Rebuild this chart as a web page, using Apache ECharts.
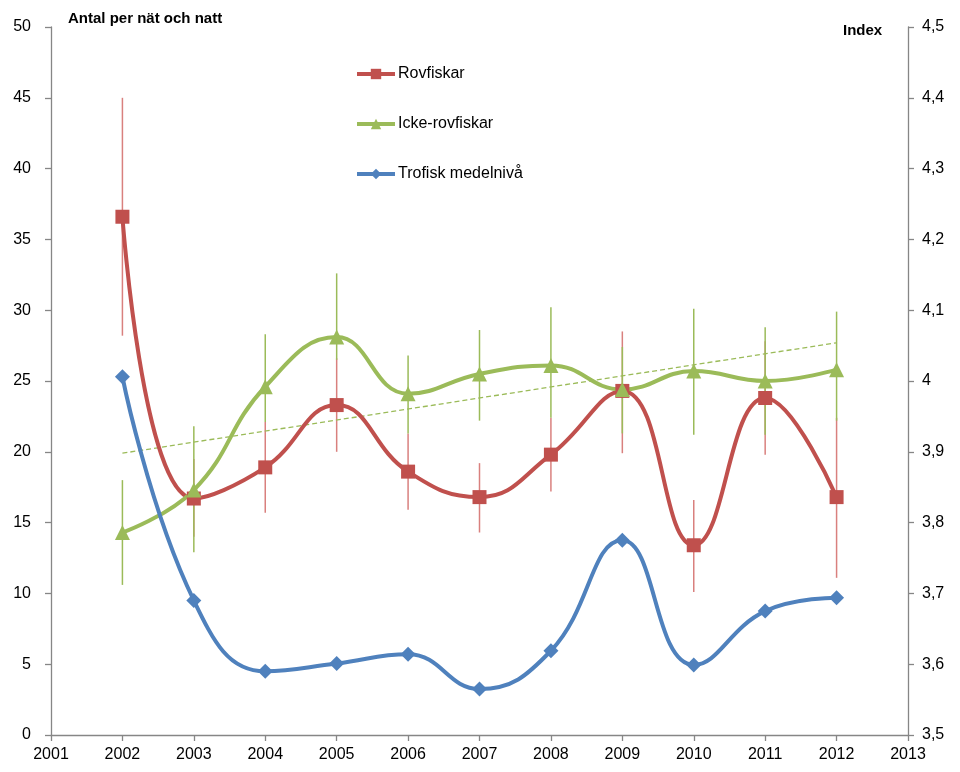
<!DOCTYPE html>
<html>
<head>
<meta charset="utf-8">
<script src="https://cdn.jsdelivr.net/npm/echarts@6/dist/echarts.min.js"></script>
<style>html,body{margin:0;padding:0;background:#fff}#c{width:960px;height:772px}</style>
</head>
<body>
<div id="c"></div>
<script>
const years = [2002, 2003, 2004, 2005, 2006, 2007, 2008, 2009, 2010, 2011, 2012];
const rovfiskar = [36.6, 16.7, 18.9, 23.3, 18.6, 16.8, 19.8, 24.3, 13.4, 23.8, 16.8];
const rovLow  = [28.2, 14.0, 15.7, 20.0, 15.9, 14.3, 17.2, 19.9, 10.1, 19.8, 11.1];
const rovHigh = [45.0, 19.5, 22.1, 26.6, 21.3, 19.2, 22.4, 28.5, 16.6, 27.8, 22.4];
const ickeRov = [14.3, 17.3, 24.6, 28.1, 24.1, 25.5, 26.1, 24.4, 25.7, 25.0, 25.8];
const ickeLow  = [10.6, 12.9, 22.1, 26.5, 21.3, 22.2, 22.4, 21.3, 21.2, 21.2, 22.2];
const ickeHigh = [18.0, 21.8, 28.3, 32.6, 26.8, 28.6, 30.2, 27.4, 30.1, 28.8, 29.9];
const trofisk = [4.006, 3.690, 3.590, 3.601, 3.614, 3.565, 3.619, 3.775, 3.599, 3.675, 3.694];
const trendYears = [2002, 2012];
const trendVals = [19.9, 27.7];
const leftTitle = 'Antal per nät och natt';
const rightTitle = 'Index';
const names = ['Rovfiskar', 'Icke-rovfiskar', 'Trofisk medelnivå'];

const RED = '#c0504d', GREEN = '#9bbb59', BLUE = '#4f81bd';
const FONT = 'Liberation Sans';

function pairs(xs, ys) { return xs.map((x, i) => [x, ys[i]]); }
function errData(lo, hi) { return years.map((x, i) => [x, lo[i], hi[i]]); }
function errSeries(lo, hi, color) {
  return {
    type: 'custom', silent: true, xAxisIndex: 0, yAxisIndex: 0,
    data: errData(lo, hi), encode: { x: 0, y: [1, 2] },
    renderItem: function (params, api) {
      const a = api.coord([api.value(0), api.value(1)]);
      const b = api.coord([api.value(0), api.value(2)]);
      return { type: 'line', shape: { x1: a[0], y1: a[1], x2: b[0], y2: b[1] },
        style: { stroke: color, lineWidth: 1.5 } };
    }
  };
}
function fmtComma(v) { return String(Math.round(v * 10) / 10).replace('.', ','); }

const axisLine = { show: true, lineStyle: { color: '#868686', width: 1.3 } };
const axisTick = { show: true, length: 6, lineStyle: { color: '#868686', width: 1.3 } };
const axisLabel = { color: '#000', fontFamily: FONT, fontSize: 16 };

const chart = echarts.init(document.getElementById('c'), null, { renderer: 'canvas' });
chart.setOption({
  animation: false,
  backgroundColor: '#fff',
  grid: { left: 51, right: 52, top: 27, bottom: 37, containLabel: false },
  legend: {
    data: names, orient: 'vertical', left: 350, top: 61,
    itemWidth: 38, itemHeight: 13, itemGap: 34,
    lineStyle: { width: 4 },
    textStyle: { fontFamily: FONT, fontSize: 16, color: '#000', padding: [0, 0, 0, -2] }
  },
  graphic: [
    { type: 'text', left: 68, top: 11, style: { text: leftTitle, font: 'bold 15px ' + FONT, fill: '#000' } },
    { type: 'text', left: 843, top: 23, style: { text: rightTitle, font: 'bold 15px ' + FONT, fill: '#000' } }
  ],
  xAxis: {
    type: 'value', min: 2001, max: 2013, interval: 1,
    axisLine: axisLine, axisTick: axisTick, splitLine: { show: false },
    axisLabel: Object.assign({}, axisLabel, { margin: 12, formatter: v => String(v) })
  },
  yAxis: [
    { type: 'value', min: 0, max: 50, interval: 5, position: 'left',
      axisLine: axisLine, axisTick: axisTick, splitLine: { show: false },
      axisLabel: Object.assign({}, axisLabel, { margin: 20 }) },
    { type: 'value', min: 3.5, max: 4.5, interval: 0.1, position: 'right',
      axisLine: axisLine, axisTick: axisTick, splitLine: { show: false },
      axisLabel: Object.assign({}, axisLabel, { margin: 14, formatter: fmtComma }) }
  ],
  series: [
    errSeries(rovLow, rovHigh, '#d9807e'),
    errSeries(ickeLow, ickeHigh, GREEN),
    { type: 'line', name: 'trend', data: pairs(trendYears, trendVals), symbol: 'none', silent: true,
      lineStyle: { color: GREEN, width: 1.3, type: [5, 3] }, z: 3 },
    { type: 'line', name: names[0], data: pairs(years, rovfiskar), smooth: 0.45,
      symbol: 'rect', symbolSize: 14, itemStyle: { color: RED }, lineStyle: { color: RED, width: 4 }, z: 4 },
    { type: 'line', name: names[1], data: pairs(years, ickeRov), smooth: 0.45,
      symbol: 'triangle', symbolSize: 15, itemStyle: { color: GREEN }, lineStyle: { color: GREEN, width: 4 }, z: 4 },
    { type: 'line', name: names[2], data: pairs(years, trofisk), yAxisIndex: 1, smooth: 0.45,
      symbol: 'diamond', symbolSize: 15, itemStyle: { color: BLUE }, lineStyle: { color: BLUE, width: 4 }, z: 4 }
  ]
});
</script>
</body>
</html>
